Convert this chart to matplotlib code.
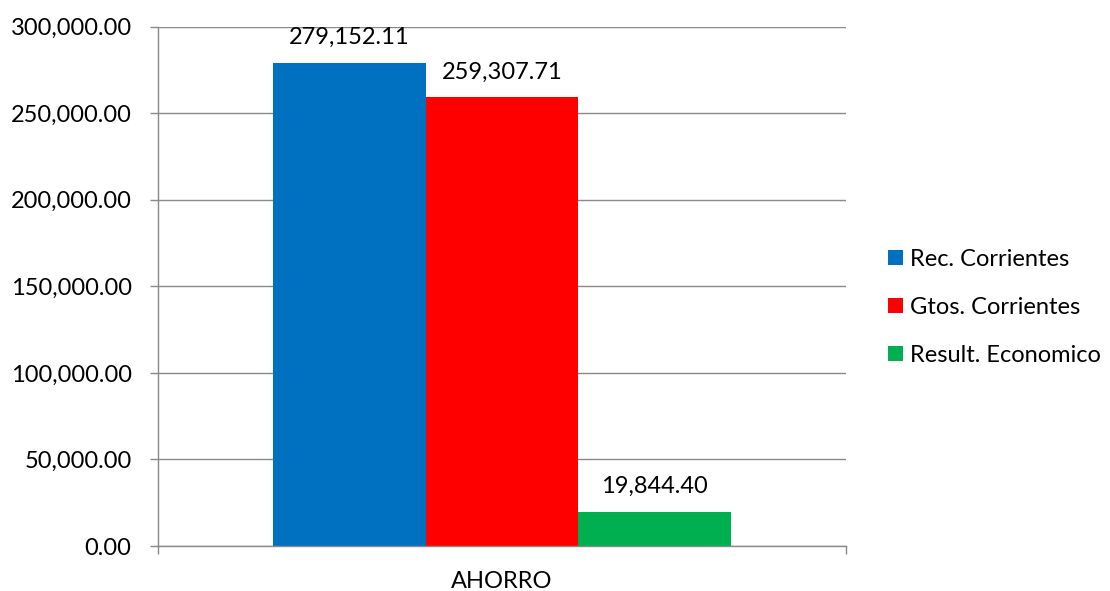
import matplotlib
matplotlib.use("Agg")
import matplotlib.pyplot as plt
from matplotlib.patches import Patch
from matplotlib.ticker import FuncFormatter, FixedLocator

plt.rcParams['font.family'] = ['Lato', 'DejaVu Sans']

category = "AHORRO"
series = ["Rec. Corrientes", "Gtos. Corrientes", "Result. Economico"]
values = [279152.11, 259307.71, 19844.40]
colors = ["#0070C0", "#FF0000", "#00B050"]
y_ticks = [0, 50000, 100000, 150000, 200000, 250000, 300000]

grid_color = "#898989"
fs = 17

fig = plt.figure(figsize=(11.10, 5.91), dpi=100)
ax = fig.add_axes([0.1423, 0.0761, 0.6198, 0.8790])

bar_w = 0.2217
offsets = [-bar_w, 0.0, bar_w]
for name, val, col, off in zip(series, values, colors, offsets):
    ax.bar(off, val, width=bar_w, color=col, zorder=3, label=name)
    ax.annotate(f"{val:,.2f}", xy=(off, val), xytext=(0, 18),
                textcoords="offset points", ha="center", va="center",
                fontsize=fs, color="black")

ax.set_xlim(-0.5, 0.5)
ax.set_ylim(0, 300000)
ax.yaxis.set_major_locator(FixedLocator(y_ticks))
ax.yaxis.set_major_formatter(FuncFormatter(lambda v, p: f"{v:,.2f}"))
ax.grid(axis="y", color=grid_color, linewidth=1.0, zorder=0)

ax.set_xticks([0])
ax.set_xticklabels([category])
ax.set_xticks([-0.5, 0.5], minor=True)
ax.tick_params(axis="x", which="major", length=0, pad=18, labelsize=fs)
ax.tick_params(axis="x", which="minor", length=6, width=1.0, color=grid_color)
ax.tick_params(axis="y", length=6, width=1.0, color=grid_color, labelsize=fs, pad=13)

for side in ["top", "right"]:
    ax.spines[side].set_visible(False)
for side in ["left", "bottom"]:
    ax.spines[side].set_color(grid_color)
    ax.spines[side].set_linewidth(1.0)
    ax.spines[side].set_zorder(4)

handles = [Patch(facecolor=c, edgecolor="none", label=s) for s, c in zip(series, colors)]
fig.legend(handles=handles, loc="center left", bbox_to_anchor=(0.781, 0.480),
           frameon=False, fontsize=fs, handlelength=0.64, handleheight=0.64,
           handletextpad=0.3, labelspacing=1.15)

fig.savefig("out.png", dpi=100)
